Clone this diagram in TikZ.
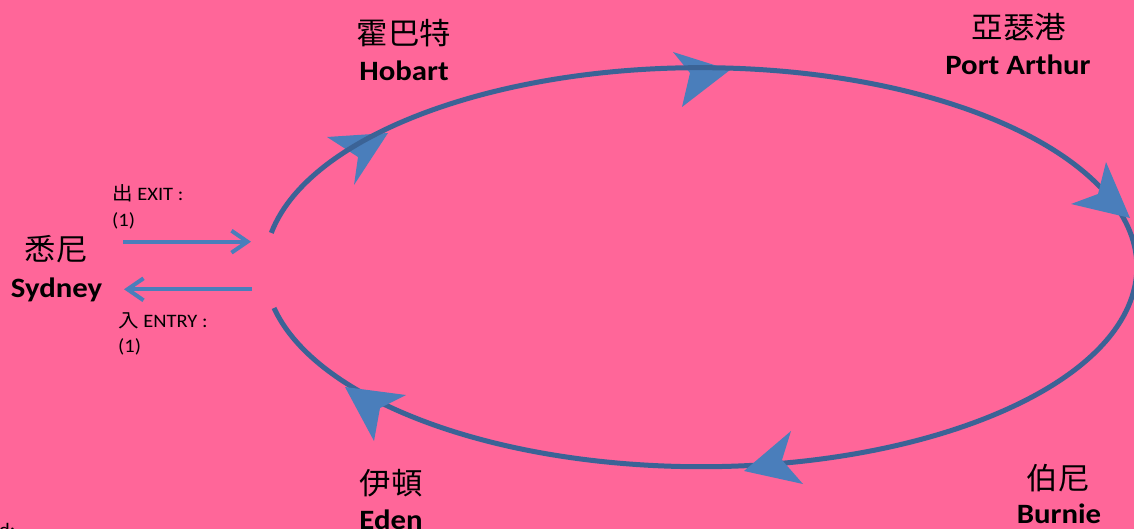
\documentclass[tikz,border=0pt]{standalone}
\usepackage{fontspec}
\setmainfont{Carlito}
\newfontfamily\cjk{Noto Sans CJK TC}
\usetikzlibrary{arrows.meta}
\definecolor{bg}{HTML}{FF6699}
\definecolor{loopblue}{HTML}{3B6396}
\definecolor{headblue}{HTML}{4A7EBB}
\begin{document}
\begin{tikzpicture}[x=1pt,y=-1pt,
  cjklabel/.style={font=\cjk\fontsize{30}{30}\selectfont, inner sep=0pt, xscale=1.05},
  namelabel/.style={font=\bfseries\fontsize{28}{28}\selectfont, inner sep=0pt, anchor=base, xscale=1.1},
  small/.style={font=\fontsize{19}{19}\selectfont, inner sep=0pt, anchor=base west, xscale=1.08},
  looppath/.style={draw=loopblue, line width=5pt},
  head/.style={fill=headblue, draw=none},
  link/.style={draw=headblue, line width=4pt, -{Straight Barb[length=16pt,width=22pt]}}
]
\useasboundingbox (0,0) rectangle (1134,529);
\clip (0,0) rectangle (1134,529);
\fill[bg] (0,0) rectangle (1134,529);

% labels
\node[cjklabel] (syd-zh) at (56,249) {悉尼};
\node[namelabel] (syd-en) at (56.5,297) {Sydney};
\node[cjklabel] (hob-zh) at (404,33) {霍巴特};
\node[namelabel] (hob-en) at (404,80.5) {Hobart};
\node[cjklabel] (port-zh) at (1019,27) {亞瑟港};
\node[namelabel] (port-en) at (1018,74.5) {Port Arthur};
\node[cjklabel] (eden-zh) at (391,483) {伊頓};
\node[namelabel] (eden-en) at (391,529.5) {Eden};
\node[cjklabel] (burn-zh) at (1058,478) {伯尼};
\node[namelabel] (burn-en) at (1059,523.5) {Burnie};

\node[small] (exit) at (112,201) {{\cjk 出} EXIT :};
\node[small] (exitn) at (112,226) {(1)};
\node[small] (entry) at (118,327) {{\cjk 入} ENTRY :};
\node[small] (entryn) at (118,352) {(1)};
\node[small] (legend) at (-1,536) {d:};

% exit / entry connectors
\coordinate (exit-from) at (123,241.7);
\coordinate (exit-to) at (251,241.7);
\coordinate (entry-from) at (252,289.3);
\coordinate (entry-to) at (124,289.3);
\draw[link] (exit-from) -- (exit-to);
\draw[link] (entry-from) -- (entry-to);

% arrowheads under the loop
\fill[head] (388,133) -- (354,185) -- (358,157) -- (327,137) -- cycle;
\fill[head] (730,70) -- (673,52) -- (690,73) -- (682,107) -- cycle;

% the loop
\coordinate (c) at (700.8,267.2);
\draw[looppath] (c) ++(189.9:436 and 199.5)
  arc[start angle=189.9, end angle=528.2, x radius=436, y radius=199.5];

% arrowheads over the loop
\fill[head] (1130,218) -- (1106,162) -- (1098,194) -- (1071,204) -- cycle;
\fill[head] (744,471) -- (791,431) -- (782,460) -- (803,484) -- cycle;
\fill[head] (345,387) -- (406,395) -- (380,408) -- (374,441) -- cycle;
\end{tikzpicture}
\end{document}
